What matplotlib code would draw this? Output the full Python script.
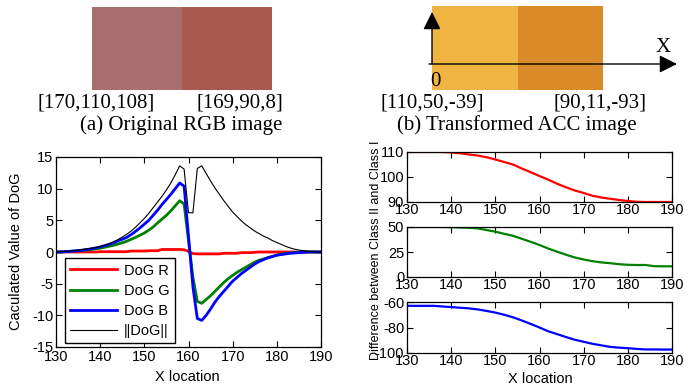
import numpy as np
import matplotlib
matplotlib.use('Agg')
import matplotlib.pyplot as plt
from matplotlib.patches import Rectangle

plt.rcParams['font.family'] = ['Liberation Sans', 'DejaVu Sans']
plt.rcParams['axes.unicode_minus'] = False

# ---- swatch data (top row)
rgb_left = (170, 110, 108)
rgb_right = (168, 90, 80)
acc_left = (239, 180, 66)
acc_right = (218, 139, 39)
label_rgb = ['[170,110,108]', '[169,90,8]']
label_acc = ['[110,50,-39]', '[90,11,-93]']
caption_a = '(a) Original RGB image'
caption_b = '(b) Transformed ACC image'

# ---- DoG curves (left chart), sampled at each x location
x_dog = list(range(130, 191))
dog_r = [0.0, 0.0, 0.0, 0.0, 0.0, 0.0, 0.0, 0.0, 0.0, 0.0,
         0.05, 0.05, 0.05, 0.05, 0.05, 0.05, 0.05, 0.15, 0.15, 0.15,
         0.15, 0.2, 0.2, 0.2, 0.4, 0.4, 0.4, 0.4, 0.4, 0.35,
         0.1, -0.25, -0.3, -0.3, -0.3, -0.3, -0.3, -0.3, -0.2, -0.2,
         -0.2, -0.2, -0.1, -0.1, -0.1, -0.05, 0.0, 0.0, 0.0, 0.0,
         0.0, 0.0, 0.0, 0.0, 0.0, 0.0, 0.0, 0.0, 0.0, 0.0, 0.0]
dog_g = [0.0, 0.0, 0.05, 0.1, 0.15, 0.2, 0.25, 0.3, 0.4, 0.5,
         0.6, 0.75, 0.9, 1.05, 1.25, 1.45, 1.7, 2.0, 2.3, 2.65,
         3.0, 3.45, 3.95, 4.6, 5.2, 5.8, 6.5, 7.3, 8.1, 7.6,
         1.8, -4.0, -7.8, -8.1, -7.5, -6.9, -6.2, -5.5, -4.8, -4.2,
         -3.7, -3.2, -2.8, -2.4, -2.0, -1.6, -1.3, -1.1, -0.9, -0.7,
         -0.5, -0.35, -0.25, -0.15, -0.1, -0.05, 0.0, 0.0, 0.0, 0.0, 0.0]
dog_b = [0.0, 0.0, 0.05, 0.1, 0.15, 0.2, 0.3, 0.4, 0.5, 0.65,
         0.8, 1.0, 1.2, 1.45, 1.75, 2.0, 2.3, 2.75, 3.25, 3.8,
         4.4, 5.0, 5.8, 6.6, 7.5, 8.3, 9.1, 10.0, 10.9, 10.4,
         2.5, -5.5, -10.5, -10.8, -10.0, -9.0, -7.9, -7.0, -6.2, -5.4,
         -4.6, -4.0, -3.4, -2.9, -2.4, -1.9, -1.5, -1.2, -0.9, -0.7,
         -0.5, -0.4, -0.3, -0.2, -0.15, -0.1, -0.05, 0.0, 0.0, 0.0, 0.0]
dog_norm = [0.0, 0.05, 0.1, 0.15, 0.2, 0.3, 0.4, 0.5, 0.6, 0.7,
            0.85, 1.05, 1.3, 1.6, 1.95, 2.35, 2.8, 3.3, 3.9, 4.6,
            5.3, 6.1, 7.0, 7.9, 8.8, 9.8, 10.9, 12.2, 13.6, 13.1,
            6.2, 6.2, 13.2, 13.6, 12.4, 11.2, 10.1, 9.1, 8.1, 7.2,
            6.3, 5.6, 4.9, 4.3, 3.8, 3.3, 2.9, 2.5, 2.2, 1.8,
            1.5, 1.2, 0.9, 0.65, 0.45, 0.3, 0.2, 0.1, 0.05, 0.0, 0.0]

# ---- class difference curves (right charts)
x_diff = list(range(130, 191, 2))
diff_r = [110, 110, 110, 110, 110, 109.8, 109.5, 109.0, 108.6, 107.9,
          107.0, 106.0, 105.0, 103.4, 101.9, 100.4, 98.9, 97.3, 95.9, 94.6,
          93.6, 92.5, 91.8, 91.3, 90.8, 90.4, 90.1, 90.0, 90.0, 90.0, 90.0]
diff_g = [50, 50, 50, 50, 50, 49.8, 49.5, 49.2, 48.6, 47.0,
          45.3, 43.2, 41.2, 38.2, 35.2, 32.0, 28.4, 25.3, 22.3, 19.5,
          17.5, 15.8, 14.6, 13.8, 12.8, 12.2, 12.0, 12.0, 10.8, 10.7, 10.7]
diff_b = [-63, -63, -63, -63, -63.5, -64, -64.5, -65, -65.8, -67,
          -68.3, -70, -72, -74.5, -77.2, -80, -83, -85.2, -87.5, -89.6,
          -91.2, -92.8, -94, -95.2, -95.8, -96.2, -96.8, -97.2, -97.2, -97.3, -97.3]

W, H = 696, 387
FS = 10.5
fig = plt.figure(figsize=(W / 100, H / 100), dpi=100)


def fax(left, top, right, bottom):
    # axes from pixel box
    return fig.add_axes([left / W, (H - bottom) / H, (right - left) / W, (bottom - top) / H])


def c255(t):
    return tuple(v / 255 for v in t)


# ---- top: colour swatches drawn in pixel space
top = fig.add_axes([0, 0, 1, 1])
top.set_xlim(0, W)
top.set_ylim(H, 0)
top.axis('off')
serif = dict(family=['Liberation Serif', 'DejaVu Serif'], fontsize=15)

top.add_patch(Rectangle((92, 7), 90, 83, color=c255(rgb_left), lw=0))
top.add_patch(Rectangle((182, 7), 90, 83, color=c255(rgb_right), lw=0))
top.text(96, 103, label_rgb[0], ha='center', va='center', **serif)
top.text(240, 103, label_rgb[1], ha='center', va='center', **serif)
top.text(181, 125, caption_a, ha='center', va='center', **serif)

top.add_patch(Rectangle((432, 6), 86, 84, color=c255(acc_left), lw=0))
top.add_patch(Rectangle((518, 6), 85, 84, color=c255(acc_right), lw=0))
arrow = dict(arrowstyle='-|>,head_length=1.08,head_width=0.54', color='k', lw=1,
             mutation_scale=10, shrinkA=0, shrinkB=0)
top.annotate('', xy=(432, 12), xytext=(432, 64), arrowprops=arrow)
top.annotate('', xy=(677, 64), xytext=(429, 64), arrowprops=arrow)
top.text(663, 47, 'X', ha='center', va='center', **serif)
top.text(435, 81, '0', ha='center', va='center', **serif)
top.text(432, 103, label_acc[0], ha='center', va='center', **serif)
top.text(600, 103, label_acc[1], ha='center', va='center', **serif)
top.text(517, 125, caption_b, ha='center', va='center', **serif)


def style(ax):
    ax.tick_params(direction='in', top=True, right=True, labelsize=FS,
                   length=4, width=0.8, pad=2)
    for s in ax.spines.values():
        s.set_linewidth(0.9)


# ---- bottom left: DoG
ax = fax(56, 157, 321, 347)
ax.plot(x_dog, dog_r, color='#ff0000', lw=2, label='DoG R')
ax.plot(x_dog, dog_g, color='#008000', lw=2, label='DoG G')
ax.plot(x_dog, dog_b, color='#0000ff', lw=2, label='DoG B')
ax.plot(x_dog, dog_norm, color='k', lw=0.8, label='||DoG||')
ax.set_xlim(130, 190)
ax.set_ylim(-15, 15)
ax.set_xticks(range(130, 191, 10))
ax.set_yticks(range(-15, 16, 5))
style(ax)
leg = ax.legend(loc='lower left', bbox_to_anchor=(0.034, 0.021), borderaxespad=0,
                fontsize=FS, handlelength=3.2, handletextpad=0.5, labelspacing=0.42,
                fancybox=False, edgecolor='k', framealpha=1, borderpad=0.35)
leg.get_frame().set_linewidth(1.0)
fig.text(187 / W, 1 - 377 / H, 'X location', ha='center', va='center', fontsize=FS)
fig.text(16 / W, 1 - 251 / H, 'Caculated Value of DoG', ha='center', va='center',
         rotation=90, fontsize=FS)

# ---- bottom right: differences
panels = [
    (152, 202, diff_r, '#ff0000', (90, 110), [90, 100, 110]),
    (227, 277, diff_g, '#008000', (0, 50), [0, 25, 50]),
    (302, 353, diff_b, '#0000ff', (-100, -60), [-100, -80, -60]),
]
for t, b, vals, col, lim, yt in panels:
    a = fax(407, t, 672, b)
    a.plot(x_diff, vals, color=col, lw=1.6)
    a.set_xlim(130, 190)
    a.set_ylim(*lim)
    a.set_xticks(range(130, 191, 10))
    a.set_yticks(yt)
    style(a)
    a.tick_params(axis='x', pad=1)

fig.text(540 / W, 1 - 379 / H, 'X location', ha='center', va='center', fontsize=FS)
fig.text(376 / W, 1 - 250 / H, 'Difference between Class II and Class I',
         ha='center', va='center', rotation=90, fontsize=9)

fig.savefig('out.png', dpi=100)
